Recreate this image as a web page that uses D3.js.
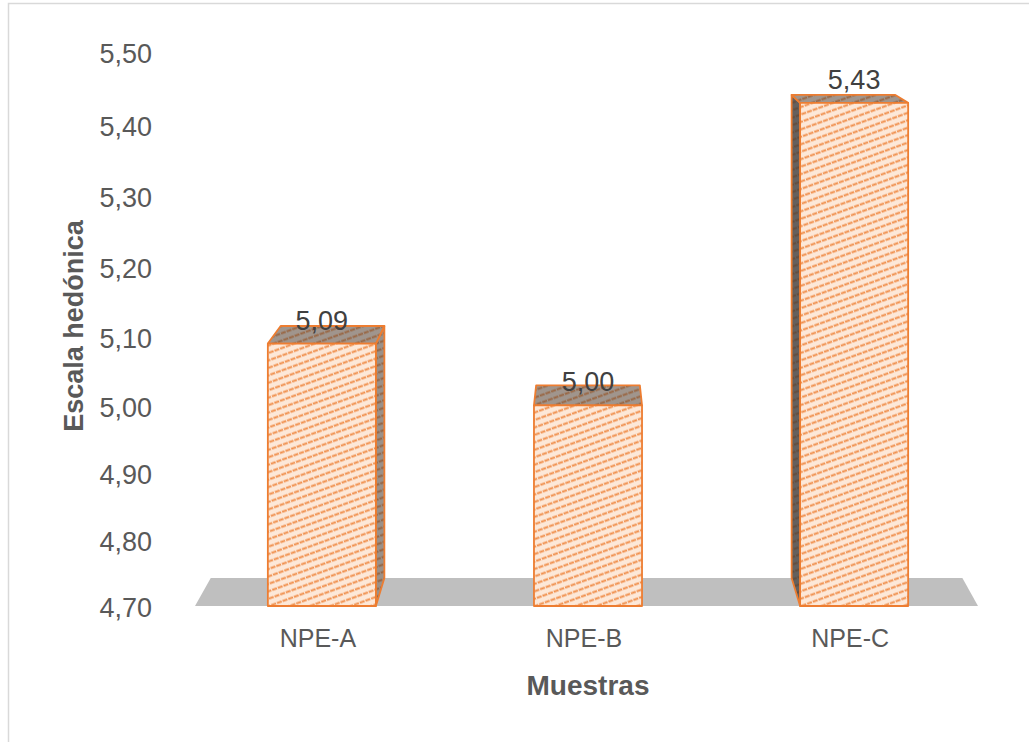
<!DOCTYPE html>
<html>
<head>
<meta charset="utf-8">
<script src="https://cdn.jsdelivr.net/npm/d3@7"></script>
<style>
  html, body { margin: 0; padding: 0; background: #ffffff; }
  svg { display: block; }
  text { font-family: "Liberation Sans", Arial, sans-serif; }
</style>
</head>
<body>
<svg id="chart" width="1029" height="742"></svg>
<script>
// Hedonic scale means per sample
const categories = ["NPE-A", "NPE-B", "NPE-C"];
const values = [5.09, 5.00, 5.43];
const yTicks = [4.70, 4.80, 4.90, 5.00, 5.10, 5.20, 5.30, 5.40, 5.50];
const yDomain = [4.70, 5.50];
const xTitle = "Muestras";
const yTitle = "Escala hedónica";

const W = 1029, H = 742;
const svg = d3.select("#chart");

const esLocale = d3.formatLocale({ decimal: ",", thousands: ".", grouping: [3], currency: ["", " €"] });
const fmt = esLocale.format(".2f");

// Front-plane scales (3D column look with a slight perspective)
const x = d3.scaleBand().domain(categories).range([188, 988]).paddingInner(0.594).paddingOuter(0.3);
const y = d3.scalePow().exponent(1.7).domain(yDomain).range([606, 52]);

// Depth projection: back points pulled toward a vanishing point
const vp = { x: x("NPE-B") + x.bandwidth() / 2, y: -95 };
const k = 0.96;
const back = ([px, py]) => [vp.x + k * (px - vp.x), vp.y + k * (py - vp.y)];

const defs = svg.append("defs");
const stripe = defs.append("pattern")
  .attr("id", "stripes")
  .attr("patternUnits", "userSpaceOnUse")
  .attr("width", 12).attr("height", 7)
  .attr("patternTransform", "rotate(-20)");
stripe.append("rect").attr("width", 12).attr("height", 7).attr("fill", "#fde8d8");
stripe.append("line")
  .attr("x1", 0).attr("x2", 12).attr("y1", 3.5).attr("y2", 3.5)
  .attr("stroke", "#f0904e").attr("stroke-width", 2.2)
  .attr("stroke-dasharray", "5 1");

// Chart area border
svg.append("rect")
  .attr("x", 8.5).attr("y", 3.5)
  .attr("width", W + 20).attr("height", H + 20)
  .attr("fill", "none").attr("stroke", "#d9d9d9").attr("stroke-width", 1.5);

// Floor
const [r0, r1] = x.range();
const y0 = y(yDomain[0]);
const floorFront = [[r0 + 7, y0], [r1 - 10, y0]];
const floorPts = [floorFront[0], floorFront[1], back(floorFront[1]), back(floorFront[0])];
svg.append("polygon")
  .attr("points", floorPts.map(p => p.join(",")).join(" "))
  .attr("fill", "#bfbfbf");

const line = d3.line();
const orange = "#ed7d31";

const bars = svg.append("g").selectAll("g.bar")
  .data(categories.map((c, i) => ({ c, v: values[i] })))
  .join("g").attr("class", "bar");

bars.each(function (d) {
  const g = d3.select(this);
  const xl = x(d.c), xr = x(d.c) + x.bandwidth();
  const yt = y(d.v), yb = y0;
  const FLT = [xl, yt], FRT = [xr, yt], FLB = [xl, yb], FRB = [xr, yb];
  const BLT = back(FLT), BRT = back(FRT), BLB = back(FLB), BRB = back(FRB);

  const face = (pts, shade) => {
    g.append("path").attr("d", line(pts) + "Z").attr("fill", "url(#stripes)");
    if (shade > 0) {
      g.append("path").attr("d", line(pts) + "Z").attr("fill", "#3a3a3a").attr("fill-opacity", shade);
    }
    g.append("path").attr("d", line(pts) + "Z")
      .attr("fill", "none").attr("stroke", orange).attr("stroke-width", 1.8)
      .attr("stroke-linejoin", "round");
  };

  // visible side face
  if (xr < vp.x - 1) face([FRT, BRT, BRB, FRB], 0.5);
  if (xl > vp.x + 1) face([FLT, BLT, BLB, FLB], 0.78);
  // top face
  face([FLT, FRT, BRT, BLT], 0.48);
  // front face
  face([FLT, FRT, FRB, FLB], 0);
});

// Value labels
svg.append("g").selectAll("text")
  .data(categories.map((c, i) => ({ c, v: values[i] })))
  .join("text")
  .attr("x", d => x(d.c) + x.bandwidth() / 2)
  .attr("y", d => y(d.v) - 14)
  .attr("text-anchor", "middle")
  .attr("font-size", 27)
  .attr("fill", "#404040")
  .text(d => fmt(d.v));

// Y axis tick labels
const yAxis = d3.axisLeft(y).tickValues(yTicks).tickFormat(fmt).tickSize(0).tickPadding(0);
const gy = svg.append("g").attr("transform", "translate(152,2)").call(yAxis);
gy.select(".domain").remove();
gy.selectAll("text")
  .attr("font-family", "Liberation Sans, Arial, sans-serif")
  .attr("font-size", 27).attr("fill", "#595959");

// X axis category labels
const xAxis = d3.axisBottom(x).tickSize(0).tickPadding(0);
const gx = svg.append("g").attr("transform", `translate(-4,${y0 + 23})`).call(xAxis);
gx.select(".domain").remove();
gx.selectAll("text")
  .attr("font-family", "Liberation Sans, Arial, sans-serif")
  .attr("font-size", 25).attr("fill", "#595959");

// Axis titles
svg.append("text")
  .attr("x", (r0 + r1) / 2).attr("y", 695)
  .attr("text-anchor", "middle")
  .attr("font-size", 28).attr("font-weight", "bold").attr("fill", "#595959")
  .text(xTitle);

svg.append("text")
  .attr("transform", `translate(83,${(y(yDomain[0]) + y(yDomain[1])) / 2 - 3}) rotate(-90)`)
  .attr("text-anchor", "middle")
  .attr("font-size", 27).attr("font-weight", "bold").attr("fill", "#595959")
  .text(yTitle);
</script>
</body>
</html>
